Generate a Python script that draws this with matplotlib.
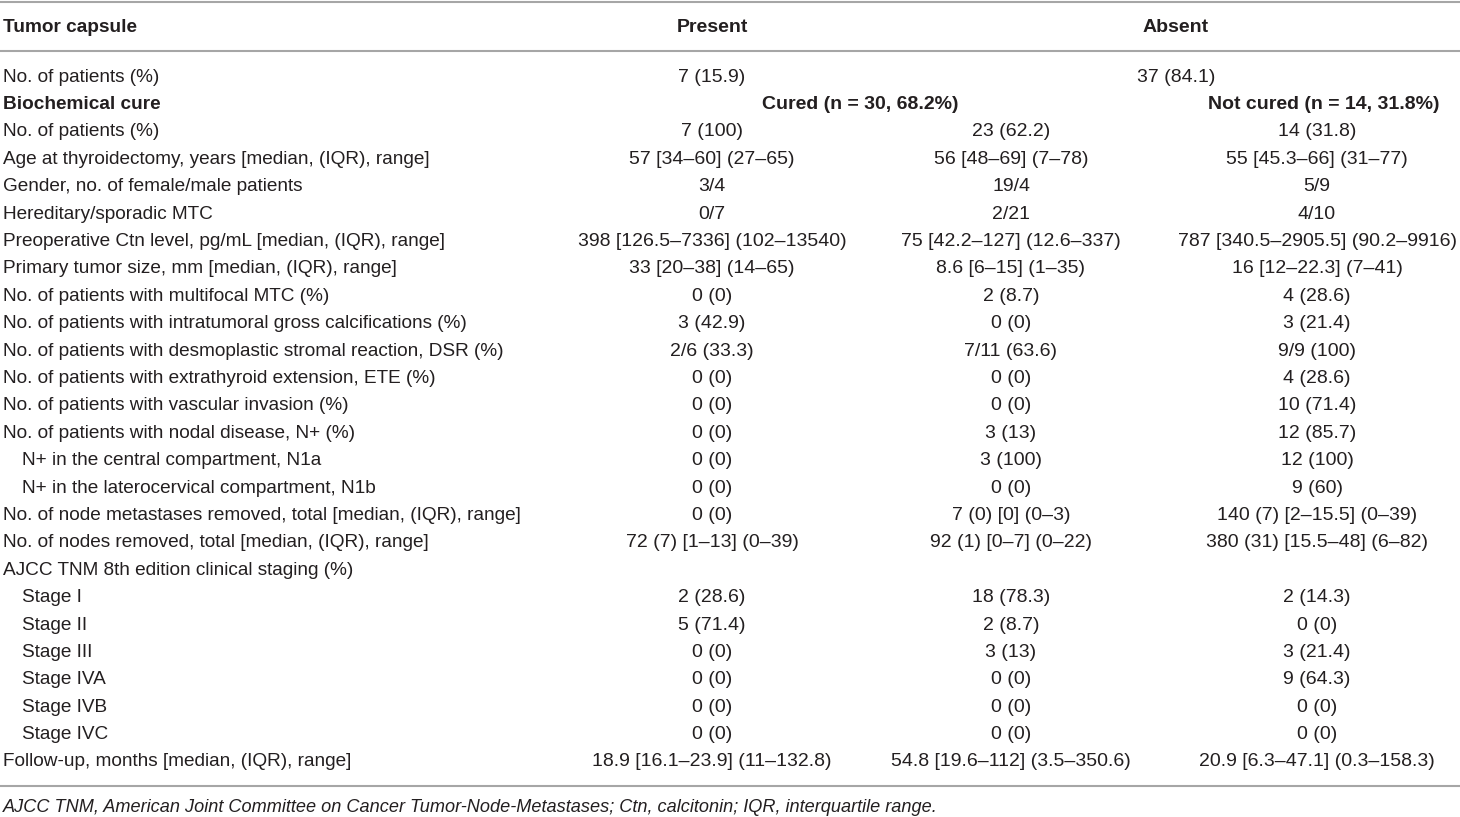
import matplotlib
matplotlib.use("Agg")
import matplotlib.pyplot as plt

# table content
header = ["Tumor capsule", "Present", "Absent"]
n_present = "7 (15.9)"
n_absent = "37 (84.1)"
cure_label = "Biochemical cure"
cured_head = "Cured (n = 30, 68.2%)"
not_cured_head = "Not cured (n = 14, 31.8%)"

row_labels = [
    "No. of patients (%)",
    "Age at thyroidectomy, years [median, (IQR), range]",
    "Gender, no. of female/male patients",
    "Hereditary/sporadic MTC",
    "Preoperative Ctn level, pg/mL [median, (IQR), range]",
    "Primary tumor size, mm [median, (IQR), range]",
    "No. of patients with multifocal MTC (%)",
    "No. of patients with intratumoral gross calcifications (%)",
    "No. of patients with desmoplastic stromal reaction, DSR (%)",
    "No. of patients with extrathyroid extension, ETE (%)",
    "No. of patients with vascular invasion (%)",
    "No. of patients with nodal disease, N+ (%)",
    "N+ in the central compartment, N1a",
    "N+ in the laterocervical compartment, N1b",
    "No. of node metastases removed, total [median, (IQR), range]",
    "No. of nodes removed, total [median, (IQR), range]",
    "AJCC TNM 8th edition clinical staging (%)",
    "Stage I",
    "Stage II",
    "Stage III",
    "Stage IVA",
    "Stage IVB",
    "Stage IVC",
    "Follow-up, months [median, (IQR), range]",
]
indented = {"N+ in the central compartment, N1a",
            "N+ in the laterocervical compartment, N1b",
            "Stage I", "Stage II", "Stage III", "Stage IVA", "Stage IVB", "Stage IVC"}

present = [
    "7 (100)", "57 [34–60] (27–65)", "3/4", "0/7", "398 [126.5–7336] (102–13540)",
    "33 [20–38] (14–65)", "0 (0)", "3 (42.9)", "2/6 (33.3)", "0 (0)", "0 (0)", "0 (0)",
    "0 (0)", "0 (0)", "0 (0)", "72 (7) [1–13] (0–39)", "",
    "2 (28.6)", "5 (71.4)", "0 (0)", "0 (0)", "0 (0)", "0 (0)",
    "18.9 [16.1–23.9] (11–132.8)",
]
cured = [
    "23 (62.2)", "56 [48–69] (7–78)", "19/4", "2/21", "75 [42.2–127] (12.6–337)",
    "8.6 [6–15] (1–35)", "2 (8.7)", "0 (0)", "7/11 (63.6)", "0 (0)", "0 (0)", "3 (13)",
    "3 (100)", "0 (0)", "7 (0) [0] (0–3)", "92 (1) [0–7] (0–22)", "",
    "18 (78.3)", "2 (8.7)", "3 (13)", "0 (0)", "0 (0)", "0 (0)",
    "54.8 [19.6–112] (3.5–350.6)",
]
not_cured = [
    "14 (31.8)", "55 [45.3–66] (31–77)", "5/9", "4/10", "787 [340.5–2905.5] (90.2–9916)",
    "16 [12–22.3] (7–41)", "4 (28.6)", "3 (21.4)", "9/9 (100)", "4 (28.6)", "10 (71.4)",
    "12 (85.7)", "12 (100)", "9 (60)", "140 (7) [2–15.5] (0–39)", "380 (31) [15.5–48] (6–82)", "",
    "2 (14.3)", "0 (0)", "3 (21.4)", "9 (64.3)", "0 (0)", "0 (0)",
    "20.9 [6.3–47.1] (0.3–158.3)",
]
footnote = ("AJCC TNM, American Joint Committee on Cancer Tumor-Node-Metastases; "
            "Ctn, calcitonin; IQR, interquartile range.")

W, H = 1460, 817
fig = plt.figure(figsize=(W / 100, H / 100), dpi=100)
ax = fig.add_axes([0, 0, 1, 1])
ax.set_xlim(0, W)
ax.set_ylim(H, 0)
ax.axis("off")

FONT = ["Liberation Sans", "DejaVu Sans"]
FS = 14.0       # cell values
FS_LAB = 13.65  # row labels
TXT = "#231f20"
LINE = "#a6a6a6"

def put(x, y, s, ha="left", bold=False, italic=False, size=FS):
    ax.text(x, y, s, ha=ha, va="center", fontsize=size, color=TXT, family=FONT,
            fontweight="bold" if bold else "normal",
            fontstyle="italic" if italic else "normal")

for yl in (2, 51, 786):
    ax.plot([0, W], [yl, yl], color=LINE, lw=1.5, solid_capstyle="butt")

col_x = [712, 1011, 1317]
put(3, 27, header[0], bold=True, size=FS_LAB)
put(712, 27, header[1], ha="center", bold=True)
put(1176, 27, header[2], ha="center", bold=True)

y0, dy = 77, 27.4
put(3, y0, row_labels[0], size=FS_LAB)
put(712, y0, n_present, ha="center")
put(1176, y0, n_absent, ha="center")
put(3, y0 + dy, cure_label, bold=True, size=FS_LAB)
put(958, y0 + dy, cured_head, ha="right", bold=True)
put(1440, y0 + dy, not_cured_head, ha="right", bold=True)

for i, lab in enumerate(row_labels):
    y = y0 + (i + 2) * dy
    put(22 if lab in indented else 3, y, lab, size=FS_LAB)
    for x, col in zip(col_x, (present, cured, not_cured)):
        put(x, y, col[i], ha="center")

put(3, 807, footnote, italic=True, size=13.1)

fig.savefig("out.png", dpi=100)
